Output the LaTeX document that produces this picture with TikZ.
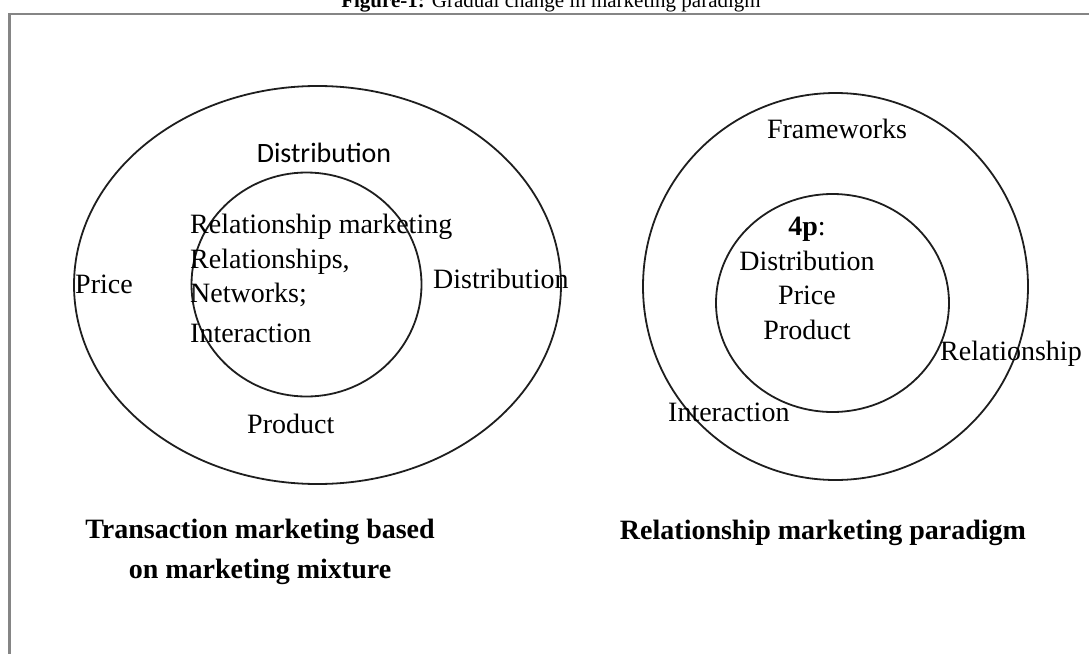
\documentclass[tikz,border=0pt]{standalone}
\usepackage{fontspec}
\setmainfont{Liberation Serif}
\newfontfamily\sansfam{Carlito}
\usetikzlibrary{positioning, shapes.geometric}
\definecolor{FrameGray}{HTML}{858585}
\definecolor{InkA}{HTML}{1E1E1E}
\tikzset{
  ring/.style={ellipse, draw=InkA, line width=1.8pt, inner sep=0pt},
  lbl/.style={font=\fontsize{28}{34}\selectfont, inner sep=0pt, text=black},
  stack/.style={font=\fontsize{28}{34.6}\selectfont, inner sep=0pt},
  caption/.style={font=\bfseries\fontsize{28}{40}\selectfont, inner sep=0pt,
                  align=center},
}

\begin{document}
\begin{tikzpicture}[x=1pt, y=-1pt]
  \useasboundingbox (0,0) rectangle (1089,653);
  \clip (0,0) rectangle (1089,653);

  % figure title and the frame round both diagrams
  \node[anchor=base, inner sep=0pt, font=\fontsize{21}{24}\selectfont] (title)
       at (551,7) {\textbf{Figure-1:} Gradual change in marketing paradigm};
  \node[draw=FrameGray, line width=2.5pt, anchor=north west, inner sep=0pt,
        minimum width=1200pt, minimum height=900pt] (frame) at (8,12.5) {};

  % transaction marketing
  \node[ring, minimum width=487pt, minimum height=398pt] (outerT) at (317.5,285) {};
  \node[ring, minimum width=230pt, minimum height=224pt] (innerT) at (306.5,284.5) {};
  \node[lbl, anchor=base, font=\sansfam\fontsize{28}{34}\selectfont] (distT)
       at (324,162) {Distribution};
  \node[lbl, anchor=base west] (priceT) at (75,293) {Price};
  \node[lbl, anchor=base west] (distR) at (433,288) {Distribution};
  \node[lbl, anchor=base west] (prodT) at (247,433) {Product};
  \node[stack, anchor=north west, align=left] (relT) at (190,214)
       {Relationship marketing\\Relationships,\\Networks;\\[5pt]Interaction};
  \node[caption, anchor=north] (capT) at (260,519)
       {Transaction marketing based\\on marketing mixture};

  % relationship marketing
  \node[ring, minimum width=385pt, minimum height=387pt] (outerR) at (835.5,286.5) {};
  \node[ring, minimum width=233pt, minimum height=218pt] (innerR) at (832.5,303) {};
  \node[lbl, anchor=base] (frameR) at (837,138) {Frameworks};
  \node[stack, anchor=north, align=center] (fourP) at (807,217)
       {\textbf{4p}:\\Distribution\\Price\\Product};
  \node[lbl, anchor=base west] (relR) at (940,360) {Relationship};
  \node[lbl, anchor=base west] (interR) at (668,421) {Interaction};
  \node[caption, anchor=base] (capR) at (823,539) {Relationship marketing paradigm};
\end{tikzpicture}
\end{document}
